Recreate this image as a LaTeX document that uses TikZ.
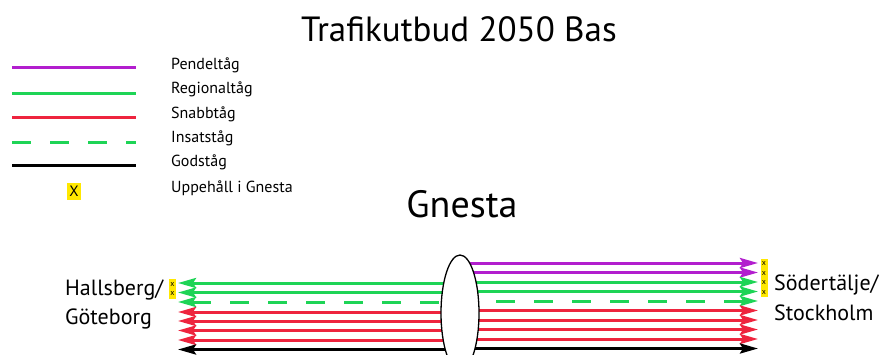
\documentclass[tikz,border=0pt]{standalone}
\usepackage{fontspec}
\setmainfont{PT Sans}
\usetikzlibrary{arrows.meta}
\definecolor{cpurple}{RGB}{178,30,206}
\definecolor{cgreen}{RGB}{30,212,86}
\definecolor{cred}{RGB}{238,36,62}
\definecolor{cyellow}{RGB}{255,232,0}
\tikzset{
  track/.style={line width=3pt},
  pend/.style={track,draw=cpurple},
  reg/.style={track,draw=cgreen},
  snabb/.style={track,draw=cred},
  insats/.style={track,draw=cgreen,dash pattern=on 19pt off 19pt},
  gods/.style={track,draw=black},
  tipR/.style={-{Stealth[length=18pt,width=10pt,inset=3pt]}},
  tipL/.style={{Stealth[length=18pt,width=10pt,inset=3pt]}-},
  legtext/.style={anchor=base west,font=\fontsize{16}{18}\selectfont,inner sep=0pt},
  place/.style={anchor=base west,font=\fontsize{22}{26}\selectfont,inner sep=0pt},
  smallx/.style={inner sep=0pt,font=\fontsize{8}{8}\selectfont},
}
\begin{document}
\begin{tikzpicture}[x=1pt,y=-1pt]
\useasboundingbox (0,0) rectangle (882,354);
\node[anchor=base,font=\fontsize{35}{40}\selectfont,inner sep=0pt] (title) at (459,41) {Trafikutbud 2050 Bas};
\node[anchor=base,font=\fontsize{38}{44}\selectfont,inner sep=0pt] (gnesta) at (462,217) {Gnesta};

% legend
\coordinate (l1a) at (12,67.5); \coordinate (l1b) at (136,67.5);
\coordinate (l2a) at (12,93); \coordinate (l2b) at (136,93);
\coordinate (l3a) at (12,117.5); \coordinate (l3b) at (136,117.5);
\coordinate (l4a) at (12,142); \coordinate (l4b) at (136,142);
\coordinate (l5a) at (12,165); \coordinate (l5b) at (136,165);
\draw[pend] (l1a) -- (l1b);
\draw[reg] (l2a) -- (l2b);
\draw[snabb] (l3a) -- (l3b);
\draw[insats] (l4a) -- (l4b);
\draw[gods] (l5a) -- (l5b);
\node[fill=cyellow,inner sep=0pt,minimum width=14pt,minimum height=17pt,font=\fontsize{15}{15}\selectfont] (lx) at (74,191.5) {X};
\node[legtext] (t1) at (171,69) {Pendeltåg};
\node[legtext] (t2) at (171,93) {Regionaltåg};
\node[legtext] (t3) at (171,118) {Snabbtåg};
\node[legtext] (t4) at (171,142) {Insatståg};
\node[legtext] (t5) at (171,166) {Godståg};
\node[legtext] (t6) at (171,192) {Uppehåll i Gnesta};

% station
\coordinate (gc) at (460,313);
% left tracks
\coordinate (La1) at (178,283); \coordinate (Lb1) at (460,283);
\coordinate (La2) at (178,292.5); \coordinate (Lb2) at (460,292.5);
\coordinate (La3) at (178,302); \coordinate (Lb3) at (460,302);
\coordinate (La4) at (178,312); \coordinate (Lb4) at (460,312);
\coordinate (La5) at (178,321); \coordinate (Lb5) at (460,321);
\coordinate (La6) at (178,330.5); \coordinate (Lb6) at (460,330.5);
\coordinate (La7) at (178,340); \coordinate (Lb7) at (460,340);
\coordinate (La8) at (178,349.5); \coordinate (Lb8) at (460,349.5);
\draw[reg,tipL] (La1) -- (Lb1);
\draw[reg,tipL] (La2) -- (Lb2);
\draw[insats,tipL] (La3) -- (Lb3);
\draw[snabb,tipL] (La4) -- (Lb4);
\draw[snabb,tipL] (La5) -- (Lb5);
\draw[snabb,tipL] (La6) -- (Lb6);
\draw[snabb,tipL] (La7) -- (Lb7);
\draw[gods,tipL] (La8) -- (Lb8);
% right tracks
\coordinate (Ra1) at (460,263); \coordinate (Rb1) at (758,263);
\coordinate (Ra2) at (460,272.5); \coordinate (Rb2) at (758,272.5);
\coordinate (Ra3) at (460,282); \coordinate (Rb3) at (758,282);
\coordinate (Ra4) at (460,291.5); \coordinate (Rb4) at (758,291.5);
\coordinate (Ra5) at (458,301); \coordinate (Rb5) at (758,301);
\coordinate (Ra6) at (460,310.5); \coordinate (Rb6) at (758,310.5);
\coordinate (Ra7) at (460,320); \coordinate (Rb7) at (758,320);
\coordinate (Ra8) at (460,329.5); \coordinate (Rb8) at (758,329.5);
\coordinate (Ra9) at (460,339); \coordinate (Rb9) at (758,339);
\coordinate (Ra10) at (460,348.5); \coordinate (Rb10) at (758,348.5);
\draw[pend,tipR] (Ra1) -- (Rb1);
\draw[pend,tipR] (Ra2) -- (Rb2);
\draw[reg,tipR] (Ra3) -- (Rb3);
\draw[reg,tipR] (Ra4) -- (Rb4);
\draw[insats,tipR] (Ra5) -- (Rb5);
\draw[snabb,tipR] (Ra6) -- (Rb6);
\draw[snabb,tipR] (Ra7) -- (Rb7);
\draw[snabb,tipR] (Ra8) -- (Rb8);
\draw[snabb,tipR] (Ra9) -- (Rb9);
\draw[gods,tipR] (Ra10) -- (Rb10);
% station ellipse
\draw[line width=1.3pt,fill=white] (gc) ellipse [x radius=19, y radius=58];
\node[draw=none,inner sep=0pt,minimum width=38pt,minimum height=116pt] (g) at (gc) {};

% stop markers
\node[fill=cyellow,inner sep=0pt,minimum width=7pt,minimum height=20pt] (sl) at (172.5,289) {};
\node[smallx] (slx1) at (172.5,284) {x};
\node[smallx] (slx2) at (172.5,293) {x};
\node[fill=cyellow,inner sep=0pt,minimum width=7pt,minimum height=38pt] (sr) at (764,277.5) {};
\node[smallx] (srx1) at (764,263.5) {x};
\node[smallx] (srx2) at (764,273) {x};
\node[smallx] (srx3) at (764,282.5) {x};
\node[smallx] (srx4) at (764,292) {x};

% place names
\node[place] (hal) at (65,295) {Hallsberg/};
\node[place] (got) at (65,324) {Göteborg};
\node[place] (sod) at (774,290) {Södertälje/};
\node[place] (sto) at (774,320) {Stockholm};
\end{tikzpicture}
\end{document}
